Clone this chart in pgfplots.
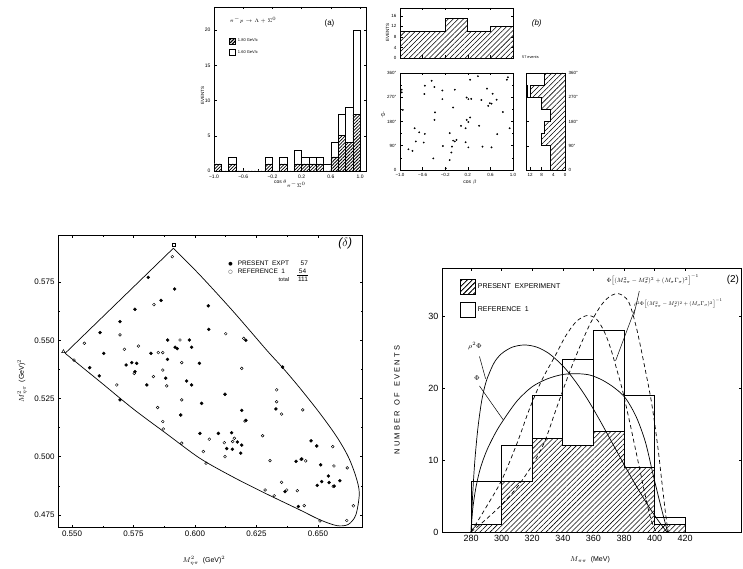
\documentclass[border=0pt]{standalone}
\usepackage{fontspec}
\setmainfont{Liberation Sans}
\newfontfamily\dejavu{DejaVu Sans}
\usepackage{graphicx}
\usepackage{pgfplots}
\pgfplotsset{compat=1.18}
\usetikzlibrary{patterns.meta}

\tikzset{
  hatchA/.style={pattern={Lines[angle=45,distance=2.3pt,line width=0.8pt]}},
  hatchB/.style={pattern={Lines[angle=45,distance=3.6pt,line width=0.55pt]}},
}
\pgfplotsset{
  base/.style={scale only axis, anchor=south west, clip=false,
    axis line style={line width=0.7pt},
    every tick/.style={black, line width=0.5pt},
    major tick length=2.5pt, minor tick length=1.5pt,
    /pgf/number format/assume math mode=true},
}

\begin{document}
\begin{tikzpicture}
\path[use as bounding box] (0pt,0pt) rectangle (743pt,-569pt);

% ---------------- panel (a) ----------------
\begin{axis}[base, at={(214pt,-171pt)}, width=152pt, height=164pt,
  xmin=-1, xmax=1.08, ymin=0, ymax=23.3,
  xtick={-1,-0.6,-0.2,0.2,0.6,1}, xticklabels={−1.0,−0.6,−0.2,0.2,0.6,1.0},
  minor xtick={-0.8,-0.4,0,0.4,0.8},
  ytick={0,5,10,15,20},
  tick label style={font=\fontsize{5}{6}\selectfont},
  ylabel={EVENTS}, ylabel style={font=\fontsize{4.5}{5}\selectfont, at={(axis description cs:-0.075,0.46)}, anchor=center},
  xlabel={cos $\theta_{\pi^-\Sigma^0}$}, xlabel style={font=\fontsize{5}{6}\selectfont, at={(axis description cs:0.5,-0.078)}, anchor=center},
  reverse legend, legend cell align=left,
  legend style={at={(rel axis cs:0.08,0.83)}, anchor=north west, draw=none, fill=none, font=\fontsize{4}{5}\selectfont, row sep=3pt}]
\addplot[ybar interval, fill=white, draw=black, line width=0.7pt,
  legend image code/.code={\draw[line width=0.6pt, fill=white] (0pt,-3pt) rectangle (6pt,3pt);}]
  coordinates {(-1.0,1) (-0.9,0) (-0.8,2) (-0.7,0) (-0.6,0) (-0.5,0) (-0.4,0) (-0.3,2) (-0.2,0) (-0.1,2) (0.0,0) (0.1,3) (0.2,2) (0.3,2) (0.4,2) (0.5,1) (0.6,4) (0.7,8) (0.8,9) (0.9,20) (1.0,0)};
\addlegendentry{1.60 GeV/c}
\addplot[ybar interval, fill=white, draw=black, line width=0.7pt, postaction={hatchA},
  legend image code/.code={\draw[line width=0.6pt, fill=white, postaction={hatchA}] (0pt,-3pt) rectangle (6pt,3pt);}]
  coordinates {(-1.0,1) (-0.9,0) (-0.8,1) (-0.7,0) (-0.6,0) (-0.5,0) (-0.4,0) (-0.3,1) (-0.2,0) (-0.1,1) (0.0,0) (0.1,1) (0.2,1) (0.3,1) (0.4,1) (0.5,0) (0.6,2) (0.7,5) (0.8,4) (0.9,8) (1.0,0)};
\addlegendentry{1.80 GeV/c}
\node[anchor=west, font=\fontsize{4.5}{5}\selectfont] at (rel axis cs:0.08,0.92) {$\pi^-p\rightarrow\Lambda+\Sigma^0$};
\node[font=\fontsize{8}{9}\selectfont] at (rel axis cs:0.76,0.90) {(a)};
\end{axis}

% ---------------- panel (b) top histogram ----------------
\begin{axis}[base, at={(400pt,-58pt)}, width=113pt, height=50pt,
  xmin=-1, xmax=1, ymin=0, ymax=19,
  xtick={-1,-0.6,-0.2,0.2,0.6,1}, xticklabels={},
  ytick={0,4,8,12,16},
  tick label style={font=\fontsize{4.5}{5}\selectfont},
  ylabel={EVENTS}, ylabel style={font=\fontsize{4.5}{5}\selectfont, at={(axis description cs:-0.11,0.5)}, anchor=center}]
\addplot[const plot, draw=black, line width=0.7pt, hatchB]
  coordinates {(-1,10) (-0.6,10) (-0.2,15) (0.2,10) (0.6,12) (1,12)} \closedcycle;
\node[anchor=west, font=\fontsize{3.8}{4}\selectfont] at (rel axis cs:1.05,0.02) {57 events};
\node[font=\fontsize{8}{9}\selectfont\itshape] at (rel axis cs:1.21,0.70) {(b)};
\end{axis}

% ---------------- panel (b) scatter ----------------
\begin{axis}[base, at={(400pt,-170pt)}, width=113pt, height=97pt,
  xmin=-1, xmax=1, ymin=0, ymax=360,
  xtick={-1,-0.6,-0.2,0.2,0.6,1}, xticklabels={−1.0,−0.6,−0.2,0.2,0.6,1.0},
  ytick={0,90,180,270,360}, yticklabels={0,90°,180°,270°,360°},
  minor ytick={45,135,225,315},
  tick label style={font=\fontsize{4.5}{5}\selectfont},
  ylabel={$\phi$}, ylabel style={font=\fontsize{7}{8}\selectfont, rotate=-90, at={(axis description cs:-0.15,0.57)}, anchor=center},
  xlabel={cos $\beta$}, xlabel style={font=\fontsize{5}{6}\selectfont, at={(axis description cs:0.62,-0.13)}, anchor=center}]
\addplot[only marks, mark=*, mark size=0.7pt] coordinates {
(-0.44,331) (-0.56,313) (-0.39,308) (-0.25,295) (-0.03,298) (0.24,335) (0.38,348) (0.89,335)
(0.54,302) (0.64,283) (-0.57,282) (-0.25,263) (0.18,269) (0.21,263) (0.26,264) (-0.06,232)
(0.59,248) (0.62,246) (0.56,238) (0.82,215) (-0.38,214) (-0.39,186) (0.24,195) (0.21,178)
(0.16,155) (0.08,164) (0.40,164) (-0.74,155) (-0.66,140) (-0.56,134) (-0.12,137) (0.72,133)
(0.94,155) (-0.06,109) (-0.03,106) (0.0,112) (-0.08,87) (0.16,103) (-0.72,106) (-0.58,102)
(-0.24,89) (0.21,84) (0.46,87) (0.62,84) (-0.85,77) (-0.78,71) (-0.09,65) (-0.12,37)
(-0.19,6) (-0.97,298) (-0.97,288) (-0.95,223) (0.91,344) (0.44,260) (-0.41,43) (0.18,186) (0.71,261)};
\end{axis}

% ---------------- panel (b) right projection ----------------
\begin{axis}[base, at={(526pt,-170pt)}, width=39pt, height=97pt,
  x dir=reverse, xmin=0, xmax=13.4, ymin=0, ymax=360,
  xtick={0,4,8,12}, ytick={0,90,180,270,360}, yticklabels={0,90°,180°,270°,360°},
  yticklabel pos=right,
  tick label style={font=\fontsize{4.5}{5}\selectfont}]
\addplot[draw=black, fill=white, line width=0.7pt]
  coordinates {(0,270) (13,270) (13,315) (13.4,315) (13.4,360) (0,360) (0,270)};
\addplot[draw=black, line width=0.7pt, fill=white, postaction={hatchB}]
  coordinates {(0,0) (5,0) (5,90) (8,90) (8,135) (7,135) (7,180) (5,180) (5,225) (8,225) (8,270) (12,270) (12,315) (7,315) (7,360) (0,360) (0,0)};
\end{axis}

% ---------------- panel (c) Dalitz plot ----------------
\begin{axis}[base, at={(58pt,-527pt)}, width=304pt, height=292pt,
  xmin=0.5443, xmax=0.6679, ymin=0.4698, ymax=0.5952,
  xtick={0.55,0.575,0.6,0.625,0.65}, xticklabels={0.550,0.575,0.600,0.625,0.650},
  ytick={0.475,0.5,0.525,0.55,0.575}, yticklabels={0.475,0.500,0.525,0.550,0.575},
  minor tick num=1,
  tick label style={font=\fontsize{8}{9}\selectfont},
  ylabel={$M^2_{\eta\pi}$\ \ (GeV)$^2$}, ylabel style={font=\fontsize{7}{8}\selectfont, at={(axis description cs:-0.118,0.5)}, anchor=center},
  xlabel={$M^2_{\eta\pi}$\ \ (GeV)$^2$}, xlabel style={font=\fontsize{7}{8}\selectfont, at={(axis description cs:0.48,-0.115)}, anchor=center}]
\addplot[line width=0.7pt] coordinates {(0.5472,0.5444) (0.5912,0.5895)};
\addplot[smooth, line width=0.7pt] coordinates {
(0.5912,0.5895) (0.6020,0.5780) (0.6156,0.5623) (0.6291,0.5458) (0.6359,0.5379) (0.6427,0.5294)
(0.6508,0.5186) (0.6576,0.5086) (0.6623,0.5000) (0.6654,0.4915) (0.6668,0.4843)
(0.6654,0.4750) (0.6623,0.4709) (0.6576,0.4704) (0.6508,0.4729) (0.6427,0.4771) (0.6291,0.4840)
(0.6156,0.4912) (0.6020,0.4993) (0.5885,0.5098) (0.5749,0.5205) (0.5614,0.5322) (0.5472,0.5444)};
\addplot[only marks, mark=triangle, mark size=2pt, line width=0.5pt] coordinates {(0.5465,0.5451)};
\addplot[only marks, mark=square, mark size=1.6pt, line width=0.5pt] coordinates {(0.5912,0.5911)};
\addplot[only marks, mark=*, mark size=1.5pt] coordinates {
(0.5810,0.5770) (0.5917,0.5720) (0.6054,0.5648) (0.5862,0.5671) (0.5756,0.5633) (0.5695,0.5580)
(0.5614,0.5533) (0.5919,0.5470) (0.5928,0.5464) (0.5977,0.5501) (0.5986,0.5470) (0.5889,0.5501)
(0.6056,0.5547) (0.6207,0.5500) (0.5629,0.5444) (0.5572,0.5382) (0.5821,0.5444) (0.5888,0.5418)
(0.6018,0.5401) (0.5966,0.5325) (0.5720,0.5394) (0.5743,0.5404) (0.5763,0.5401) (0.5756,0.5365)
(0.5881,0.5337) (0.5611,0.5347) (0.5804,0.5308) (0.5986,0.5308) (0.5695,0.5244) (0.6122,0.5268)
(0.6027,0.5229) (0.6329,0.5205) (0.6190,0.5199) (0.6207,0.5156) (0.5942,0.5179) (0.6020,0.5100)
(0.6095,0.5100) (0.6129,0.5035) (0.6149,0.5103) (0.6172,0.5063) (0.6152,0.5032) (0.6190,0.5050)
(0.6186,0.5015) (0.6366,0.4850) (0.6411,0.4980) (0.6434,0.4990) (0.6420,0.4786) (0.6472,0.5068)
(0.6495,0.5046) (0.6511,0.4965) (0.6542,0.4917) (0.6497,0.4877) (0.6515,0.4893) (0.6545,0.4889)
(0.6566,0.4874) (0.6589,0.4897) (0.6356,0.5385)};
\addplot[only marks, mark=o, mark size=1.4pt, line width=0.45pt] coordinates {
(0.5908,0.5859) (0.5833,0.5653) (0.5695,0.5523) (0.5550,0.5487) (0.5939,0.5501) (0.6125,0.5528)
(0.6198,0.5508) (0.5508,0.5415) (0.5713,0.5461) (0.5770,0.5475) (0.5851,0.5447) (0.5869,0.5447)
(0.5946,0.5404) (0.5753,0.5358) (0.5831,0.5344) (0.5869,0.5372) (0.6190,0.5379) (0.5682,0.5308)
(0.5885,0.5304) (0.5848,0.5211) (0.5946,0.5244) (0.6332,0.5287) (0.6332,0.5236) (0.6352,0.5183)
(0.6203,0.5153) (0.6438,0.5201) (0.5871,0.5119) (0.5869,0.5151) (0.5946,0.5058) (0.6058,0.5075)
(0.6119,0.5060) (0.6122,0.5000) (0.6160,0.5079) (0.6153,0.5065) (0.6275,0.5090) (0.6305,0.4983)
(0.6034,0.5022) (0.6045,0.4972) (0.6352,0.4890) (0.6373,0.4857) (0.6416,0.4854) (0.6444,0.4790)
(0.6565,0.4960) (0.6560,0.5043) (0.6619,0.4952) (0.6508,0.4724) (0.6617,0.4726) (0.6644,0.4789)
(0.6285,0.4857) (0.6322,0.4832) (0.6450,0.4982) (0.6562,0.4872) (0.6431,0.4989)};
\node[anchor=north west, font=\fontsize{6.5}{8}\selectfont, inner sep=0pt] at (rel axis cs:0.56,0.915)
 {\begin{tabular}{@{}c@{\hspace{5pt}}l@{\hspace{8pt}}r@{}}
  {\dejavu\fontsize{5}{6}\selectfont ●} & PRESENT\ \ EXPT & 57\\
  {\dejavu\fontsize{5}{6}\selectfont ○} & REFERENCE\ \ 1 & \underline{\ 54\ }\\
  & \hfill {\fontsize{5.5}{6}\selectfont total} & 111
 \end{tabular}};
\node[font=\fontsize{12}{13}\selectfont\itshape] at (rel axis cs:0.945,0.972) {($\delta$)};
\end{axis}

% ---------------- panel (d) ----------------
\begin{axis}[base, at={(442pt,-532pt)}, width=299pt, height=264pt,
  xmin=261, xmax=456.5, ymin=0, ymax=36.7,
  xtick={280,300,...,420}, ytick={0,10,20,30},
  tick label style={font=\fontsize{9}{10}\selectfont},
  ylabel={N U M B E R\ \ \ O F\ \ \ E V E N T S}, ylabel style={font=\fontsize{7.5}{8}\selectfont, at={(axis description cs:-0.15,0.5)}, anchor=center},
  xlabel={$M_{\pi\pi}$\ \ (MeV)}, xlabel style={font=\fontsize{7}{8}\selectfont, at={(axis description cs:0.495,-0.106)}, anchor=center},
  reverse legend, legend cell align=left,
  legend style={at={(rel axis cs:0.05,0.966)}, anchor=north west, draw=none, fill=none, font=\fontsize{7}{8}\selectfont, row sep=7pt}]
\addplot[ybar interval, fill=white, draw=black, line width=0.7pt,
  legend image code/.code={\draw[line width=0.7pt, fill=white] (0pt,-7.5pt) rectangle (15pt,7.5pt);}]
  coordinates {(280,7) (300,12) (320,19) (340,24) (360,28) (380,19) (400,2) (420,0)};
\addlegendentry{REFERENCE\ \ 1}
\addplot[const plot, draw=black, line width=0.7pt, fill=white, postaction={hatchB},
  legend image code/.code={\draw[line width=0.7pt, fill=white, postaction={hatchB}] (0pt,-7.5pt) rectangle (15pt,7.5pt);}]
  coordinates {(280,1) (300,7) (320,13) (340,12) (360,14) (380,9) (400,1) (420,1)} \closedcycle;
\addlegendentry{PRESENT\ \ EXPERIMENT}
% rho^2 Phi
\addplot[smooth, line width=0.7pt, forget plot] coordinates {
(280,0) (281,5) (282.5,10) (284.5,14.5) (287,18.3) (290,21) (295,23.5) (300,24.8) (307,25.7)
(315,26) (323,25.7) (331,24.8) (340,23.1) (348,21) (356,18.5) (364,15.6) (372,12.5) (380,9.4)
(388,6.4) (396,3.6) (402,1.7) (408,0)};
% Phi
\addplot[smooth, line width=0.7pt, forget plot] coordinates {
(280,0) (281,3) (283,6) (286,8.8) (290,11.2) (295,13.4) (300,15.2) (310,18.2) (320,20.2)
(330,21.3) (340,21.9) (350,22) (358,21.8) (366,21.1) (374,20) (381,18.6) (388,16) (394,12.5)
(399,8) (403,4.5) (406,2) (408.5,0)};
% dashed, tall
\addplot[smooth, line width=0.7pt, dash pattern=on 4pt off 3pt, forget plot] coordinates {
(280,0) (290,1.8) (300,3.8) (310,6.2) (320,9.3) (328,12.5) (336,17.3) (344,22) (351,25.7)
(358,29) (365,31.5) (371,32.8) (377,33.1) (383,32) (388,28.5) (393,23.5) (398,18) (402,12)
(405,6.5) (407.5,2) (409,0)};
% dashed, lower
\addplot[smooth, line width=0.7pt, dash pattern=on 4pt off 3pt, forget plot] coordinates {
(280,0) (290,3.5) (300,7.2) (310,12.3) (318,17) (326,21) (335,24.5) (342,27.3) (349,29.3)
(356,30.1) (362,29.6) (367,27.9) (371,25.7) (375,22.8) (379,19.7) (384,15) (390,9) (395,4)
(398,1.5) (401,0)};
% pointer lines
\addplot[line width=0.5pt, forget plot] coordinates {(285.5,24.4) (289.5,21.3)};
\addplot[line width=0.5pt, forget plot] coordinates {(285.5,20.3) (301,15.6)};
\addplot[line width=0.5pt, forget plot] coordinates {(390,33.5) (386.5,30.2)};
\addplot[line width=0.5pt, forget plot] coordinates {(387,30.9) (374.5,23.8)};
\node[font=\fontsize{7}{8}\selectfont] at (axis cs:282.6,25.9) {$\rho^2\Phi$};
\node[font=\fontsize{7}{8}\selectfont] at (axis cs:283.9,21.4) {$\Phi$};
\node[anchor=west, inner sep=0pt] at (axis cs:368.5,35.0)
  {\scalebox{0.76}{\fontsize{8}{9}\selectfont$\Phi\bigl[(M^2_{\pi\pi}-M^2_\sigma)^2+(M_\sigma\Gamma_\sigma)^2\bigr]^{-1}$}};
\node[anchor=west, inner sep=0pt] at (axis cs:386.5,31.7)
  {\scalebox{0.68}{\fontsize{8}{9}\selectfont$\rho^2\Phi\bigl[(M^2_{\pi\pi}-M^2_\sigma)^2+(M_\sigma\Gamma_\sigma)^2\bigr]^{-1}$}};
\node[anchor=east, font=\fontsize{10}{11}\selectfont, inner sep=1pt] at (axis cs:456,35.0) {(2)};
\end{axis}
\end{tikzpicture}
\end{document}
